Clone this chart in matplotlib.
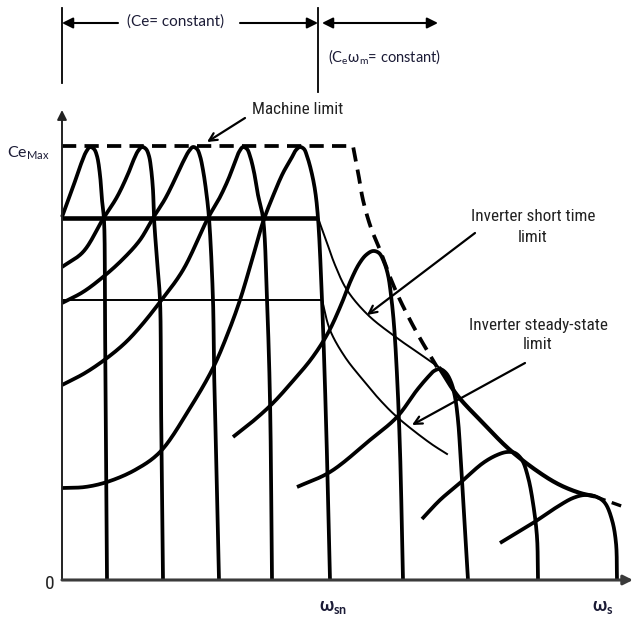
import numpy as np
import matplotlib
matplotlib.use("Agg")
import matplotlib.pyplot as plt

# ---------------- data (speed, torque) in drawing units ----------------
ce_max = 434          # Ce_Max level
short_limit = 362     # inverter short-time torque limit
steady_limit = 280    # inverter steady-state torque limit
w_sn = 271            # base speed  (omega_sn)
w_s = 541             # max speed   (omega_s)
w_div = 256           # boundary between the two regions
w_top = 470           # top of torque axis
w_end = 571           # end of speed axis

# constant-flux region torque/speed curves
flux_w = [
    [0, 11, 19, 24, 28, 32, 35, 38, 40, 42, 43, 44, 45],
    [0, 21, 41, 55, 66, 72, 76, 80, 84, 87, 89, 91, 92, 95, 98, 99, 101],
    [0, 21, 41, 60, 78, 91, 103, 114, 121, 127, 131, 135, 138, 141, 144, 147, 151, 152, 154, 157],
    [0, 23, 45, 63, 78, 98, 121, 146, 157, 166, 173, 177, 181, 185, 188, 192, 196, 201, 205, 208,
     210],
    [0, 23, 45, 73, 98, 128, 151, 166, 178, 190, 201, 211, 221, 229, 234, 238, 242, 245, 249, 253,
     256, 260, 264, 268],
]
flux_T = [
    [363, 393, 416, 428, 433, 431, 424, 405, 380, 360, 260, 130, 0],
    [313, 328, 361, 383, 406, 421, 429, 433, 431, 424, 412, 390, 362, 320, 280, 180, 0],
    [277, 288, 303, 320, 340, 362, 381, 403, 418, 429, 433, 431, 424, 410, 390, 362, 280, 213, 130,
     0],
    [195, 207, 222, 237, 253, 278, 310, 362, 381, 400, 418, 428, 433, 431, 424, 408, 385, 362, 280,
     180, 0],
    [92, 93, 98, 110, 128, 172, 212, 247, 280, 320, 358, 384, 407, 421, 430, 433, 431, 424, 410, 390,
     362, 280, 160, 0],
]

# field-weakening region curves
fw_w = [
    [171, 190, 210, 230, 250, 266, 279, 289, 297, 304, 311, 317, 322, 326, 329, 332, 335, 338, 341],
    [235, 268, 308, 335, 355, 366, 372, 378, 384, 389, 393, 396, 398, 401, 406],
    [360, 378, 398, 421, 435, 445, 453, 460, 466, 471, 475, 476],
    [438, 471, 495, 511, 523, 535, 543, 550, 554, 555],
]
fw_T = [
    [143, 158, 176, 198, 222, 247, 275, 300, 316, 325, 329, 327, 318, 305, 285, 255, 205, 130, 0],
    [93, 108, 140, 163, 190, 203, 209, 211, 207, 198, 183, 160, 133, 83, 0],
    [61, 80, 97, 117, 125, 128, 127, 120, 103, 77, 43, 0],
    [37, 57, 73, 82, 85, 83, 77, 60, 37, 0],
]

# limits
machine_w = [291, 296, 301, 309, 318, 328, 338, 355, 375]
machine_T = [434, 408, 380, 352, 330, 303, 280, 247, 213]
envelope_w = [378, 395, 421, 448, 478, 498, 518, 531]
envelope_T = [211, 185, 157, 130, 107, 95, 87, 84]
tail_w = [534, 565]
tail_T = [83, 72]
short_w = [256, 264, 273, 285, 306, 335, 358, 378]
short_T = [362, 340, 315, 290, 265, 242, 226, 212]
steady_w = [260, 268, 283, 301, 318, 335, 368, 385]
steady_T = [280, 250, 223, 200, 180, 163, 137, 126]


def smooth(xs, ys, n=20, alpha=0.5):
    """centripetal Catmull-Rom rendering of a line through the given points"""
    P = np.column_stack([xs, ys]).astype(float)
    if len(P) < 3:
        return P[:, 0], P[:, 1]
    P = np.vstack([2 * P[0] - P[1], P, 2 * P[-1] - P[-2]])
    out = []
    for i in range(len(P) - 3):
        p0, p1, p2, p3 = P[i:i + 4]
        t0 = 0.0
        t1 = t0 + np.linalg.norm(p1 - p0) ** alpha
        t2 = t1 + np.linalg.norm(p2 - p1) ** alpha
        t3 = t2 + np.linalg.norm(p3 - p2) ** alpha
        t = np.linspace(t1, t2, n, endpoint=False)[:, None]
        a1 = (t1 - t) / (t1 - t0) * p0 + (t - t0) / (t1 - t0) * p1
        a2 = (t2 - t) / (t2 - t1) * p1 + (t - t1) / (t2 - t1) * p2
        a3 = (t3 - t) / (t3 - t2) * p2 + (t - t2) / (t3 - t2) * p3
        b1 = (t2 - t) / (t2 - t0) * a1 + (t - t0) / (t2 - t0) * a2
        b2 = (t3 - t) / (t3 - t1) * a2 + (t - t1) / (t3 - t1) * a3
        c = (t2 - t) / (t2 - t1) * b1 + (t - t1) / (t2 - t1) * b2
        out.append(c)
    out.append(P[-2:-1])
    C = np.vstack(out)
    return C[:, 0], C[:, 1]


NARROW = ['Roboto Condensed', 'Liberation Sans', 'DejaVu Sans']
CAL = ['Lato', 'DejaVu Sans']
INK = 'black'
NAVY = '#1b1b36'
GREY = '#222222'

fig = plt.figure(figsize=(6.34, 6.20), dpi=100)
ax = fig.add_axes([0, 0, 1, 1])
ax.set_xlim(-62, 572)
ax.set_ylim(-40, 580)
ax.axis('off')

# axes with arrows
ax.annotate('', xy=(0, w_top), xytext=(0, 0),
            arrowprops=dict(arrowstyle='-|>', lw=1.4, color='#222222', mutation_scale=14,
                            shrinkA=0, shrinkB=0))
ax.annotate('', xy=(w_end, 0), xytext=(0, 0),
            arrowprops=dict(arrowstyle='-|>', lw=2.2, color='#3a3a3a', mutation_scale=14,
                            shrinkA=0, shrinkB=0))

# torque-speed curves
for ws, ts in zip(flux_w + fw_w, flux_T + fw_T):
    x, y = smooth(ws, ts)
    ax.plot(x, y, color=INK, lw=2.7, solid_capstyle='butt', solid_joinstyle='round')

# inverter limits
ax.plot([0, short_w[0]], [short_limit, short_limit], color=INK, lw=3.3, solid_capstyle='butt')
ax.plot([0, steady_w[0]], [steady_limit, steady_limit], color=INK, lw=1.4, solid_capstyle='butt')
x, y = smooth(short_w, short_T)
ax.plot(x, y, color=INK, lw=1.4)
x, y = smooth(steady_w, steady_T)
ax.plot(x, y, color=INK, lw=1.4)

# machine limit (dashed) + envelope
mx, my = smooth(machine_w, machine_T)
mx = np.concatenate([[0], mx])
my = np.concatenate([[ce_max], my])
ax.plot(mx, my, color=INK, lw=2.7, dashes=(3.8, 2.2), dash_capstyle='butt')
x, y = smooth(envelope_w, envelope_T)
ax.plot(x, y, color=INK, lw=3.0)
ax.plot(tail_w, tail_T, color=INK, lw=2.4, dashes=(3.0, 2.0))

# region markers on top
ax.plot([0, 0], [497, 572], color=INK, lw=1.3)
ax.plot([w_div, w_div], [488, 572], color=INK, lw=1.3)
arr = dict(arrowstyle='-|>', lw=1.5, color=INK, mutation_scale=16, shrinkA=0, shrinkB=0)
ax.annotate('', xy=(0, 557), xytext=(56, 557), arrowprops=arr)
ax.annotate('', xy=(w_div, 557), xytext=(178, 557), arrowprops=arr)
ax.annotate('', xy=(376, 557), xytext=(w_div + 4, 557),
            arrowprops=dict(arrowstyle='<|-|>', lw=1.5, color=INK, mutation_scale=16,
                            shrinkA=0, shrinkB=0))
ax.text(114, 558, '(Ce= constant)', family=CAL, fontsize=11, color=NAVY,
        ha='center', va='center')
ax.text(266, 523, r'(C$_\mathregular{e}$ω$_\mathregular{m}$= constant)', family=CAL,
        fontsize=10.5, color=NAVY, ha='left', va='center')

# annotations
ann = dict(arrowstyle='->', lw=1.6, color=INK, mutation_scale=14, shrinkA=0, shrinkB=0)
ax.text(236, 470, 'Machine limit', family=NARROW, fontsize=12.3, color=GREY,
        ha='center', va='center')
ax.annotate('', xy=(145, 438), xytext=(183, 462), arrowprops=ann)
ax.text(471, 353, 'Inverter short time\nlimit', family=NARROW, fontsize=12.3, color=GREY,
        ha='center', va='center', linespacing=1.5)
ax.annotate('', xy=(305, 265), xytext=(413, 347), arrowprops=ann)
ax.text(476, 245, 'Inverter steady-state\nlimit', family=NARROW, fontsize=12.3, color=GREY,
        ha='center', va='center', linespacing=1.4)
ax.annotate('', xy=(350, 155), xytext=(463, 217), arrowprops=ann)

# tick-like labels
ax.text(-55, 427, r'Ce$_\mathregular{Max}$', family=CAL, fontsize=11.5, color=NAVY,
        ha='left', va='center')
ax.text(-8, -4, '0', family=NARROW, fontsize=14, color=GREY, ha='right', va='center')
ax.text(w_sn, -28, r'ω$_\mathregular{sn}$', family=CAL, fontsize=13, color=NAVY,
        ha='center', va='center', fontweight='bold')
ax.text(w_s, -28, r'ω$_\mathregular{s}$', family=CAL, fontsize=13, color=NAVY,
        ha='center', va='center', fontweight='bold')

fig.savefig('out.png', dpi=100, facecolor='white')
